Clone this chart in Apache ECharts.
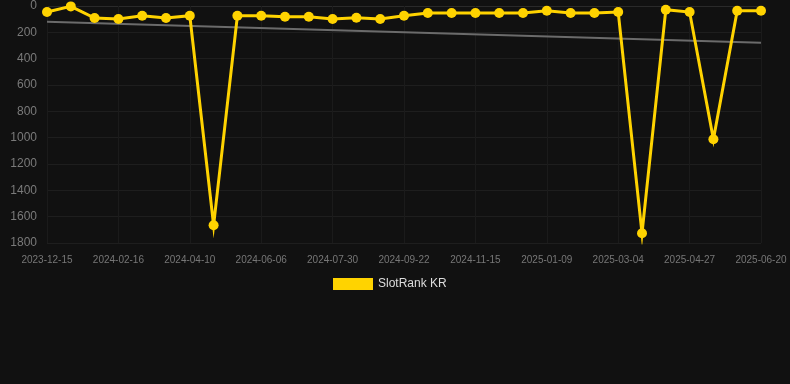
<!DOCTYPE html>
<html>
<head>
<meta charset="utf-8">
<script src="https://cdn.jsdelivr.net/npm/echarts@6/dist/echarts.min.js"></script>
<style>
html,body{margin:0;padding:0;background:#111111;}
#chart{width:790px;height:384px;}
</style>
</head>
<body>
<div id="chart"></div>
<script>
var dates = [
  '2023-12-15','2024-01-05','2024-01-26','2024-02-16','2024-03-05','2024-03-23',
  '2024-04-10','2024-04-29','2024-05-18','2024-06-06','2024-06-24','2024-07-12',
  '2024-07-30','2024-08-17','2024-09-04','2024-09-22','2024-10-10','2024-10-28',
  '2024-11-15','2024-12-03','2024-12-21','2025-01-09','2025-01-27','2025-02-14',
  '2025-03-04','2025-03-22','2025-04-09','2025-04-27','2025-05-15','2025-06-02',
  '2025-06-20'
];
var rankKR = [
  46, 3, 91, 99, 74, 91,
  74, 1665, 74, 74, 81, 81,
  99, 89, 99, 74, 53, 53,
  53, 53, 53, 36, 53, 53,
  46, 1726, 28, 46, 1012, 36,
  36
];
var trendStart = 119;
var trendEnd = 279;
var trend = dates.map(function (d, i) {
  return i === 0 ? trendStart : (i === dates.length - 1 ? trendEnd : null);
});
var yTicks = [0, 200, 400, 600, 800, 1000, 1200, 1400, 1600, 1800];

var chart = echarts.init(document.getElementById('chart'), null, {renderer: 'canvas'});
chart.setOption({
  backgroundColor: '#111111',
  animation: false,
  grid: {left: 47, right: 29, top: 6, bottom: 141, containLabel: false},
  legend: {
    top: 273,
    left: 328,
    itemWidth: 40,
    itemHeight: 12,
    itemGap: 10,
    icon: 'rect',
    textStyle: {color: '#dddddd', fontSize: 12, fontFamily: 'Arial, Liberation Sans, sans-serif'},
    data: [{name: 'SlotRank KR'}]
  },
  xAxis: {
    type: 'category',
    data: dates,
    boundaryGap: false,
    axisLine: {show: true, lineStyle: {color: '#2a2a2a'}},
    axisTick: {show: true, interval: 2, length: 8, lineStyle: {color: '#1b1b1b'}},
    axisLabel: {
      interval: 2,
      color: '#777777',
      fontSize: 10,
      margin: 12,
      fontFamily: 'Arial, Liberation Sans, sans-serif'
    },
    splitLine: {show: true, interval: 2, lineStyle: {color: '#1b1b1b', width: 1}}
  },
  yAxis: {
    type: 'value',
    inverse: true,
    min: yTicks[0],
    max: yTicks[yTicks.length - 1],
    interval: 200,
    axisLine: {show: false},
    axisTick: {show: false},
    axisLabel: {
      color: '#7a7a7a', fontSize: 12, margin: 10,
      fontFamily: 'Arial, Liberation Sans, sans-serif',
      formatter: function (v) { return String(v); }
    },
    splitLine: {lineStyle: {color: '#1e1e1e', width: 1}}
  },
  series: [
    {
      name: 'Trend',
      type: 'line',
      data: trend,
      connectNulls: true,
      symbol: 'none',
      lineStyle: {color: '#6b6b6b', width: 2},
      z: 1
    },
    {
      name: 'SlotRank KR',
      type: 'line',
      data: rankKR,
      symbol: 'circle',
      symbolSize: 10,
      itemStyle: {color: '#FFD300'},
      lineStyle: {color: '#FFD300', width: 3, join: 'miter'},
      z: 2
    }
  ]
});
</script>
</body>
</html>
